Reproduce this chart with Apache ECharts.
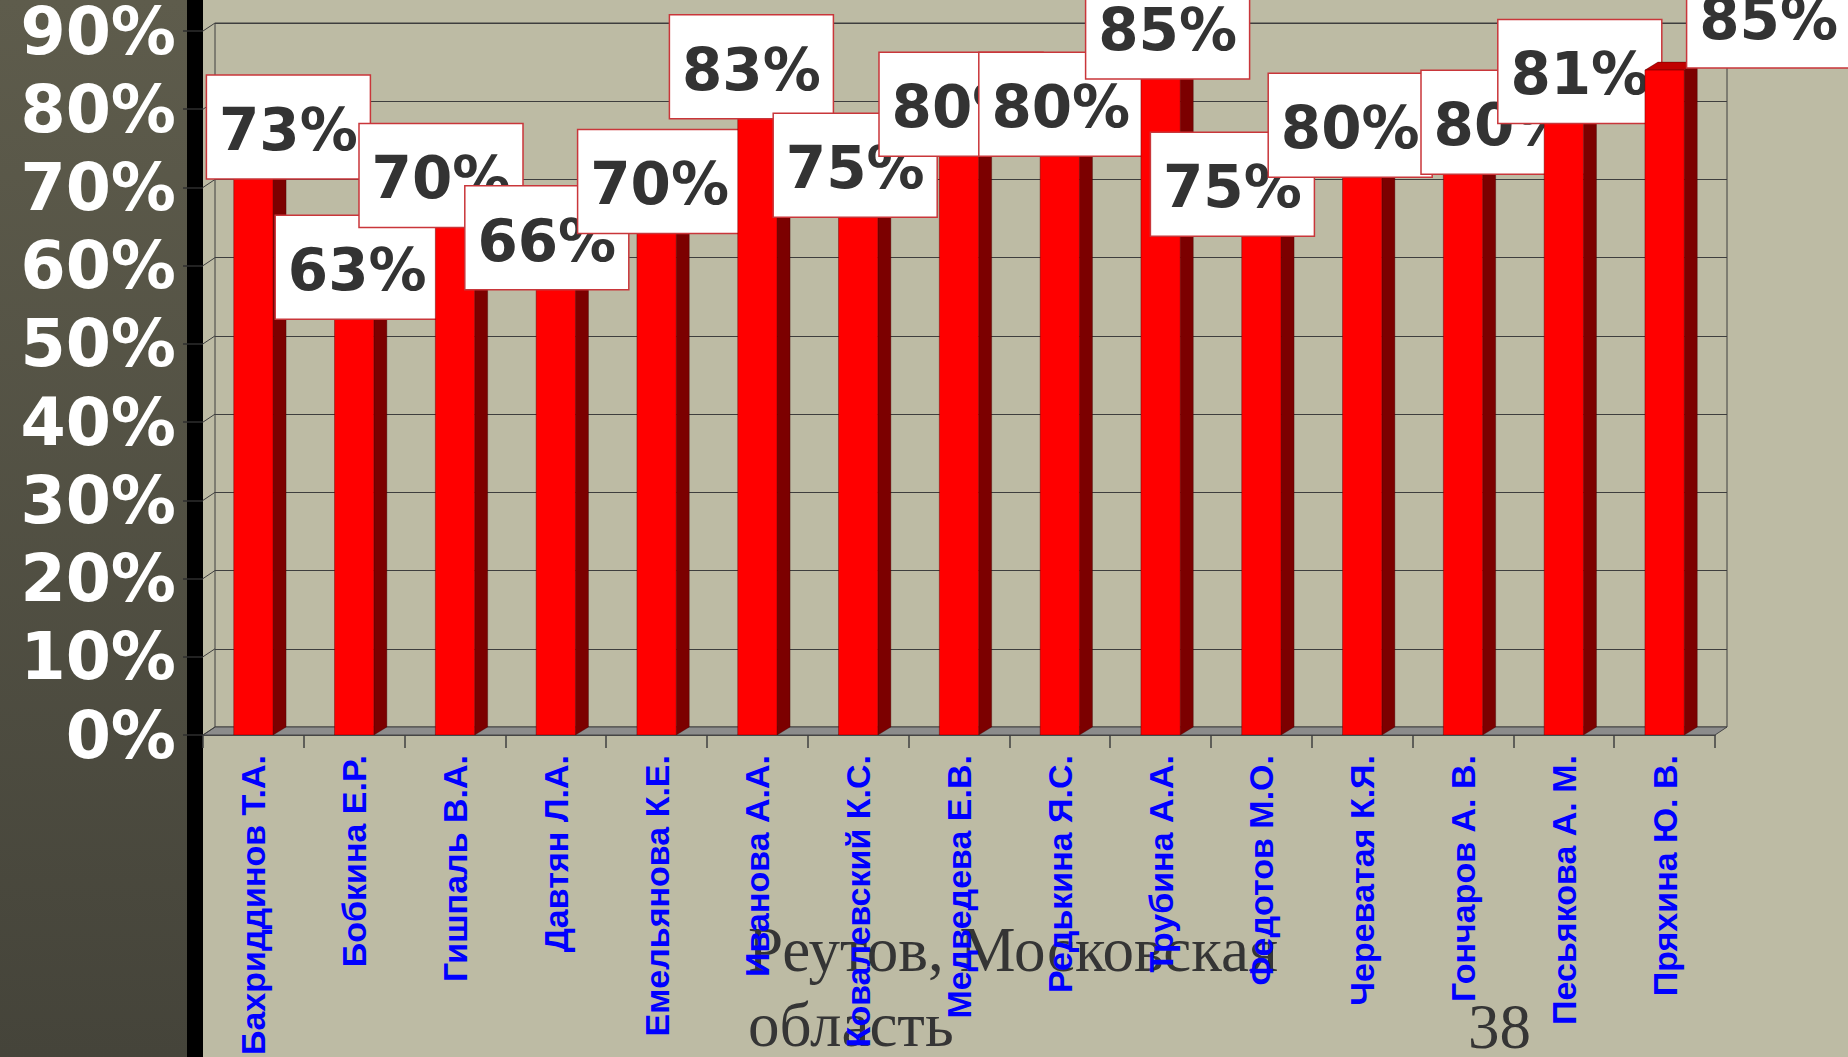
<!DOCTYPE html>
<html>
<head>
<meta charset="utf-8">
<script src="https://cdn.jsdelivr.net/npm/echarts@6/dist/echarts.min.js"></script>
<style>
  html, body { margin: 0; padding: 0; background: #BDBBA4; }
  #chart { width: 1848px; height: 1057px; }
</style>
</head>
<body>
<div id="chart"></div>
<script>
// ---- data ----
const categories = [
  'Бахриддинов Т.А.', 'Бобкина Е.Р.', 'Гишпаль В.А.', 'Давтян Л.А.',
  'Емельянова К.Е.', 'Иванова А.А.', 'Ковалевский К.С.', 'Медведева Е.В.',
  'Редькина Я.С.', 'Трубина А.А.', 'Федотов М.О.', 'Череватая К.Я.',
  'Гончаров А. В.', 'Песьякова А. М.', 'Пряхина Ю. В.'
];
const scores = [73, 63, 70, 66, 70, 83, 75, 80, 80, 85, 75, 80, 80, 81, 85];
const yMin = 0;
const yMax = 90;
const yStep = 10;
const footerLines = ['Реутов, Московская', 'область'];
const pageNumber = '38';

// ---- layout (positions / styles only) ----
const W = 1848, H = 1057;
const FRONT = { left: 203, right: 1715, top: 31, bottom: 735 };
const DEPTH = { dx: 12, dy: -8 };
const BAR_DEPTH = { dx: 13, dy: -8 };
const BAR_RATIO = 0.39;
const BOX_W = 164, BOX_H = 104;
// label box centre offset from the top-centre of its bar (manual label placement of the original)
const labelBoxOffset = [
  [35, -37], [3, 25], [-14, -12], [-9, 19], [3, -6], [-6, -19], [-3, 17], [2, -5],
  [1, -5], [7, -43], [-29, 36], [-12, 16], [40, 13], [16, -30], [104, -54]
];

const chart = echarts.init(document.getElementById('chart'), null, { renderer: 'svg', width: W, height: H });

function renderBar(params, api) {
  const i = api.value(0), v = api.value(1);
  const top = api.coord([i, v]);
  const base = api.coord([i, 0]);
  const w = api.size([1, 0])[0] * BAR_RATIO;
  const x1 = top[0] - w / 2, x2 = top[0] + w / 2;
  const yT = top[1], yB = base[1];
  const dx = BAR_DEPTH.dx, dy = BAR_DEPTH.dy;
  const off = labelBoxOffset[params.dataIndex] || [0, -BOX_H / 2];
  const cx = top[0] + off[0], cy = yT + off[1];
  return {
    type: 'group',
    children: [
      { type: 'polygon', shape: { points: [[x2, yB], [x2 + dx, yB + dy], [x2 + dx, yT + dy], [x2, yT]] },
        style: { fill: '#7C0000', stroke: 'rgba(60,0,0,0.6)', lineWidth: 0.6 } },
      { type: 'polygon', shape: { points: [[x1, yT], [x1 + dx, yT + dy], [x2 + dx, yT + dy], [x2, yT]] },
        style: { fill: '#C00000', stroke: 'rgba(60,0,0,0.6)', lineWidth: 0.6 } },
      { type: 'rect', shape: { x: x1, y: yT, width: w, height: yB - yT },
        style: { fill: '#FF0000', stroke: 'rgba(90,0,0,0.55)', lineWidth: 0.8 } },
      { type: 'rect', shape: { x: cx - BOX_W / 2, y: cy - BOX_H / 2, width: BOX_W, height: BOX_H },
        style: { fill: '#FFFFFF', stroke: '#C9363A', lineWidth: 1.5 } },
      { type: 'text', style: { text: v + '%', x: cx, y: cy + 3, align: 'center', verticalAlign: 'middle',
        fontFamily: 'DejaVu Sans', fontWeight: 'bold', fontSize: 58, fill: '#333333' } }
    ]
  };
}

const option = {
  backgroundColor: '#BDBBA4',
  animation: false,
  grid: [
    { left: FRONT.left, right: W - FRONT.right, top: FRONT.top, bottom: H - FRONT.bottom,
      containLabel: false, outerBoundsMode: 'none' },
    { left: FRONT.left + DEPTH.dx, right: W - FRONT.right - DEPTH.dx, top: FRONT.top + DEPTH.dy,
      bottom: H - FRONT.bottom - DEPTH.dy, show: true, borderColor: '#3E3E3E', borderWidth: 1,
      backgroundColor: 'transparent', containLabel: false, outerBoundsMode: 'none' }
  ],
  xAxis: [
    { type: 'category', gridIndex: 0, data: categories, z: 10,
      axisLine: { show: true, lineStyle: { color: '#454545', width: 1 } },
      axisTick: { show: true, length: 13, lineStyle: { color: '#404040', width: 1.5 } },
      axisLabel: { interval: 0, rotate: 90, margin: 20, color: '#0000FF', fontWeight: 'bold',
        fontSize: 34, fontFamily: "'Liberation Sans', Arial, sans-serif" } },
    { type: 'category', gridIndex: 1, data: categories, show: false }
  ],
  yAxis: [
    { type: 'value', gridIndex: 0, min: yMin, max: yMax, interval: yStep, z: 10,
      axisLine: { show: false },
      axisTick: { show: true, length: 20, lineStyle: { color: '#2E2E2E', width: 1.5 } },
      splitLine: { show: false },
      axisLabel: { formatter: '{value}%', margin: 27, color: '#FFFFFF', fontWeight: 'bold',
        fontSize: 65, fontFamily: 'DejaVu Sans', padding: [12, 0, 0, 0] } },
    { type: 'value', gridIndex: 1, min: yMin, max: yMax, interval: yStep, z: 1,
      axisLine: { show: false }, axisTick: { show: false }, axisLabel: { show: false },
      splitLine: { show: true, lineStyle: { color: '#3E3E3E', width: 1 } } }
  ],
  series: [
    { type: 'custom', name: 'Результат', xAxisIndex: 0, yAxisIndex: 0, z: 5, clip: false,
      renderItem: renderBar, encode: { x: 0, y: 1 },
      data: scores.map((v, i) => [i, v]) }
  ],
  graphic: []
};

chart.setOption(option);

// decorations: left panel, black stripe, 3D floor / left wall, footer
const p0 = chart.convertToPixel({ gridIndex: 0 }, [0, yMin]);
const floorY = p0[1];
const xl = FRONT.left, xr = FRONT.right;
const g = [
  { type: 'rect', z: 0, shape: { x: 0, y: 0, width: 187, height: H },
    style: { fill: { type: 'linear', x: 0, y: 0, x2: 0, y2: 1,
      colorStops: [{ offset: 0, color: '#5E5C4C' }, { offset: 1, color: '#45443A' }] } } },
  { type: 'rect', z: 0, shape: { x: 187, y: 0, width: 16, height: H }, style: { fill: '#000000' } },
  { type: 'polygon', z: 2, shape: { points: [[xl, floorY], [xl + DEPTH.dx, floorY + DEPTH.dy],
      [xr + DEPTH.dx, floorY + DEPTH.dy], [xr, floorY]] },
    style: { fill: '#8C8C8C', stroke: '#454545', lineWidth: 1 } }
];
for (let v = yMin; v <= yMax; v += yStep) {
  const p = chart.convertToPixel({ gridIndex: 0 }, [0, v]);
  g.push({ type: 'line', z: 2, shape: { x1: xl, y1: p[1], x2: xl + DEPTH.dx, y2: p[1] + DEPTH.dy },
    style: { stroke: '#3E3E3E', lineWidth: 1 } });
}
const serif = "'Liberation Serif', 'Times New Roman', serif";
g.push({ type: 'text', z: 3, style: { text: footerLines[0], x: 748, y: 950, verticalAlign: 'middle',
  fontFamily: serif, fontSize: 63, fill: '#353535' } });
g.push({ type: 'text', z: 3, style: { text: footerLines[1], x: 748, y: 1025, verticalAlign: 'middle',
  fontFamily: serif, fontSize: 63, fill: '#353535' } });
g.push({ type: 'text', z: 3, style: { text: pageNumber, x: 1468, y: 1027, verticalAlign: 'middle',
  fontFamily: serif, fontSize: 63, fill: '#353535' } });
chart.setOption({ graphic: g });
</script>
</body>
</html>
